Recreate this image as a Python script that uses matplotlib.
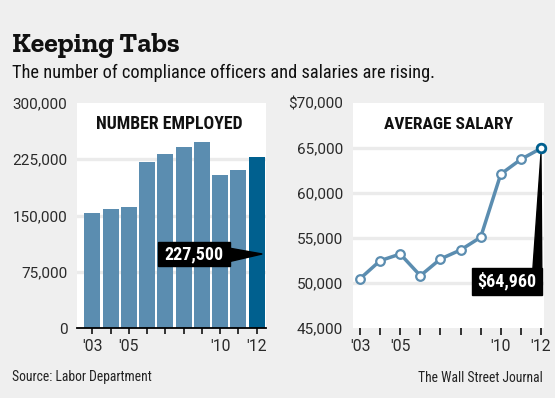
import matplotlib
matplotlib.use("Agg")
import matplotlib.pyplot as plt
from matplotlib.patches import Rectangle, Polygon

# ---- data ----
years = ["2003", "2004", "2005", "2006", "2007", "2008", "2009", "2010", "2011", "2012"]
tick_labels = ["'03", "", "'05", "", "", "", "", "'10", "", "'12"]
employed = [153000, 158500, 161500, 222000, 232000, 242000, 248000, 204000, 210500, 227500]
salary = [50480, 52480, 53220, 50810, 52670, 53670, 55080, 62100, 63740, 64960]
emp_ticks = [0, 75000, 150000, 225000, 300000]
emp_tick_labels = ["0", "75,000", "150,000", "225,000", "300,000"]
sal_ticks = [45000, 50000, 55000, 60000, 65000, 70000]
sal_tick_labels = ["45,000", "50,000", "55,000", "60,000", "65,000", "$70,000"]

BG = "#efefef"
GRID = "#ebebeb"
BAR = "#5b8db0"
DARK = "#00608f"
SANS = ["Roboto Condensed", "DejaVu Sans"]
TICKF = ["Roboto", "DejaVu Sans"]
SLAB = ["Zilla Slab", "DejaVu Serif"]

fig = plt.figure(figsize=(5.55, 3.98), dpi=100, facecolor=BG)
W, H = 555.0, 398.0

fig.text(12 / W, 1 - 51.5 / H, "Keeping Tabs", family=SLAB, fontweight="bold",
         fontsize=20, color="#111111", va="baseline")
fig.text(12 / W, 1 - 78.5 / H, "The number of compliance officers and salaries are rising.",
         family=SANS, fontsize=13.2, color="#111111", va="baseline")
fig.text(12 / W, 1 - 381.5 / H, "Source: Labor Department", family=SANS,
         fontsize=9.8, color="#222222", va="baseline")
fig.text(543 / W, 1 - 381.5 / H, "The Wall Street Journal", family=SANS,
         fontsize=9.8, color="#222222", va="baseline", ha="right")

xs = list(range(len(years)))

def style_ticks(ax):
    for lab in ax.get_xticklabels() + ax.get_yticklabels():
        lab.set_family(TICKF)
        lab.set_fontweight("normal")

# ---- left panel: number employed ----
ax1 = fig.add_axes([77 / W, 70 / H, 189 / W, 225 / H])
ax1.set_facecolor("white")
for v in emp_ticks[1:-1]:
    ax1.axhline(v, color=GRID, lw=2.4, zorder=0)
colors = [BAR] * (len(years) - 1) + [DARK]
ax1.bar(xs, employed, width=0.88, color=colors, zorder=2)
ax1.set_xlim(-0.84, 9.51)
ax1.set_ylim(0, 300000)
for s in ["top", "right", "left"]:
    ax1.spines[s].set_visible(False)
ax1.spines["bottom"].set_color("black")
ax1.spines["bottom"].set_linewidth(1.3)
ax1.spines["bottom"].set_zorder(3)
ax1.set_xticks(xs)
ax1.set_xticklabels(tick_labels)
ax1.set_yticks(emp_ticks)
ax1.set_yticklabels(emp_tick_labels)
ax1.tick_params(axis="x", direction="out", length=4.5, width=1.1, color="black", pad=3.5,
                labelsize=11.3, labelcolor="#2a2a2a")
ax1.tick_params(axis="y", length=0, pad=7, labelsize=11, labelcolor="#2a2a2a")
style_ticks(ax1)
ax1.text(0.49, 0.905, "NUMBER EMPLOYED", transform=ax1.transAxes, ha="center", va="center",
         family=SANS, fontweight="bold", fontsize=12.8, color="#111111", zorder=5)

# callout
last = len(years) - 1
ax1.add_patch(Rectangle((3.6, 82700), 3.94, 32300, color="black", zorder=4))
ax1.add_patch(Polygon([(7.5, 106500), (last + 0.3, 98700), (7.5, 88500)], closed=True,
                      color="black", zorder=4))
ax1.text(5.57, 98700, f"{employed[-1]:,}", ha="center", va="center", color="white",
         family=SANS, fontweight="bold", fontsize=13, zorder=5)

# ---- right panel: average salary ----
ax2 = fig.add_axes([353 / W, 70 / H, 191 / W, 225 / H])
ax2.set_facecolor("white")
for v in sal_ticks[1:-1]:
    ax2.axhline(v, color=GRID, lw=2.4, zorder=0)
ax2.set_xlim(-0.35, 9.15)
ax2.set_ylim(45000, 70000)
for s in ["top", "right", "left", "bottom"]:
    ax2.spines[s].set_visible(False)
ax2.set_xticks(xs)
ax2.set_xticklabels(tick_labels)
ax2.set_yticks(sal_ticks)
ax2.set_yticklabels(sal_tick_labels)
ax2.tick_params(axis="x", direction="out", length=5, width=1.1, color="black", pad=3,
                labelsize=11.3, labelcolor="#2a2a2a")
ax2.tick_params(axis="y", length=0, pad=7, labelsize=11, labelcolor="#2a2a2a")
style_ticks(ax2)
ax2.text(0.5, 0.905, "AVERAGE SALARY", transform=ax2.transAxes, ha="center", va="center",
         family=SANS, fontweight="bold", fontsize=12.5, color="#111111", zorder=5)

# callout (behind the line)
ax2.add_patch(Rectangle((5.56, 48670), 3.48, 3000, color="black", zorder=2, clip_on=False))
ax2.add_patch(Polygon([(8.6, 51660), (last + 0.04, 51660), (last, salary[-1] - 600)],
                      closed=True, color="black", zorder=2, clip_on=False))
ax2.text(7.3, 50170, f"${salary[-1]:,}", ha="center", va="center", color="white",
         family=SANS, fontweight="bold", fontsize=13, zorder=5)

ax2.plot(xs, salary, color=BAR, lw=2.5, zorder=3, marker="o", markersize=6.2,
         markerfacecolor="white", markeredgecolor=BAR, markeredgewidth=1.6, clip_on=False)
ax2.plot([xs[-1]], [salary[-1]], marker="o", markersize=6.2, markerfacecolor="white",
         markeredgecolor=DARK, markeredgewidth=2, zorder=4, clip_on=False, lw=0)

fig.savefig("out.png", dpi=100, facecolor=BG)
